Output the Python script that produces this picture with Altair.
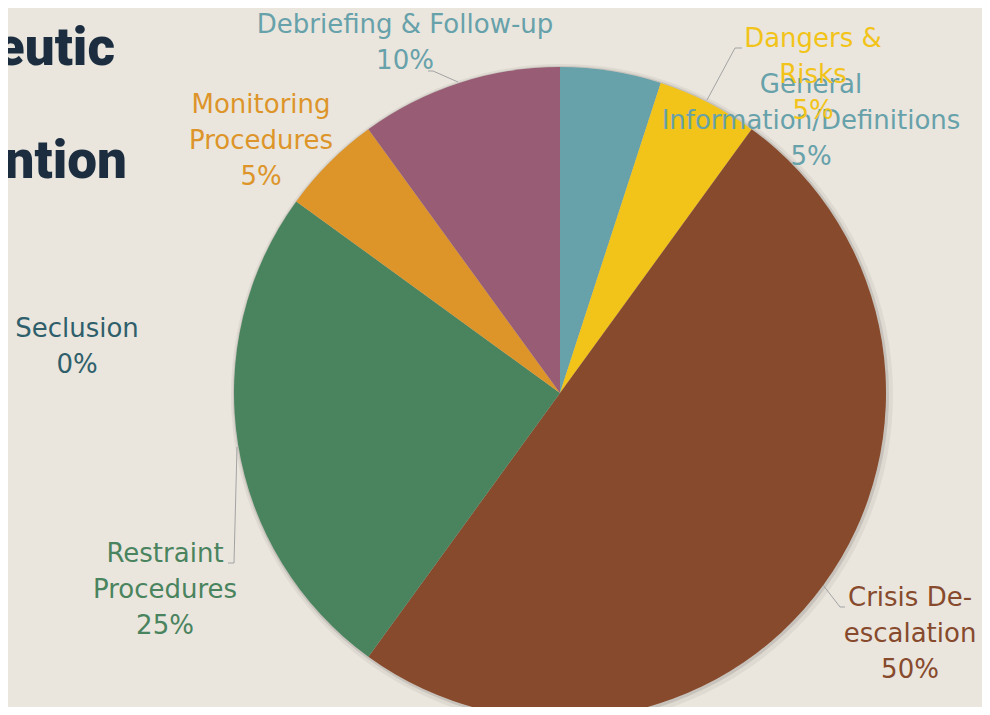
import altair as alt
import pandas as pd

# ---- data ----
categories = ["General Information/Definitions", "Dangers & Risks", "Crisis De-escalation",
              "Restraint Procedures", "Seclusion", "Monitoring Procedures", "Debriefing & Follow-up"]
values = [5, 5, 50, 25, 0, 5, 10]
colors = ["#67A1AA", "#F2C318", "#874A2C", "#4A845E", "#2F5F6B", "#DD952A", "#985C75"]
label_colors = ["#67A1AA", "#F2C318", "#874A2C", "#4A845E", "#2F5F6B", "#DD952A", "#67A1AA"]
label_text = ["General\nInformation/Definitions", "Dangers &\nRisks", "Crisis De-\nescalation",
              "Restraint\nProcedures", "Seclusion", "Monitoring\nProcedures", "Debriefing & Follow-up"]
title_parts = ["eutic", "ntion"]

# ---- layout (page pixel coordinates) ----
label_x = [811, 813, 910, 165, 77, 261, 405]
label_y = [93, 47, 606, 562, 337, 113, 33]
title_x = [115, 127]
title_y = [65, 178]
seg_x = [428, 433, 735, 735, 237, 234, 823, 840]
seg_y = [71, 71, 48, 48, 447, 563, 585, 607]
seg_x2 = [433, 458, 742, 707, 234, 228, 840, 845]
seg_y2 = [71, 82, 48, 100, 563, 563, 607, 607]

W, H = 974, 699
CX, CY, R = 560, 393, 326

df = pd.DataFrame({"category": categories, "value": values, "order": list(range(len(values)))})
labels = pd.DataFrame({
    "text": [f"{t}\n{v}%" for t, v in zip(label_text, values)],
    "color": label_colors,
    "x": label_x, "y": label_y,
})
titles = pd.DataFrame({"text": title_parts, "x": title_x, "y": title_y})
segs = pd.DataFrame({"x": seg_x, "y": seg_y, "x2": seg_x2, "y2": seg_y2})

xs = alt.Scale(domain=[8, 8 + W], range=[0, W])
ys = alt.Scale(domain=[8, 8 + H], range=[0, H])
color_scale = alt.Scale(domain=categories, range=colors)

base = alt.Chart(df)
shadow1 = base.mark_arc(radius=R + 5, color="#000000", opacity=0.05).encode(
    theta=alt.Theta("value:Q", stack=True), order=alt.Order("order:Q"),
    x=alt.value(CX - 8 + 2), y=alt.value(CY - 8 + 2))
shadow2 = base.mark_arc(radius=R + 2, color="#000000", opacity=0.10).encode(
    theta=alt.Theta("value:Q", stack=True), order=alt.Order("order:Q"),
    x=alt.value(CX - 8 + 1), y=alt.value(CY - 8 + 1))
pie = base.mark_arc(radius=R).encode(
    theta=alt.Theta("value:Q", stack=True),
    order=alt.Order("order:Q"),
    color=alt.Color("category:N", scale=color_scale, legend=None),
    x=alt.value(CX - 8), y=alt.value(CY - 8),
)

rules = alt.Chart(segs).mark_rule(color="#A3A3A3", strokeWidth=1).encode(
    x=alt.X("x:Q", scale=xs, axis=None), y=alt.Y("y:Q", scale=ys, axis=None),
    x2="x2:Q", y2="y2:Q")

text = alt.Chart(labels).mark_text(
    font="DejaVu Sans", fontSize=26, lineHeight=36, align="center",
    baseline="alphabetic", lineBreak="\n").encode(
    x=alt.X("x:Q", scale=xs, axis=None), y=alt.Y("y:Q", scale=ys, axis=None),
    text="text:N",
    color=alt.Color("color:N", scale=None, legend=None))

title = alt.Chart(titles).mark_text(
    font="Roboto", fontSize=53, fontWeight=900, align="right",
    baseline="alphabetic", color="#1B2D3F").encode(
    x=alt.X("x:Q", scale=xs, axis=None), y=alt.Y("y:Q", scale=ys, axis=None),
    text="text:N")

chart = alt.layer(shadow1, shadow2, pie, rules, text, title).properties(
    width=W, height=H, padding=0, autosize="none", background="#EAE6DE"
).configure_view(stroke=None)

chart.save("out.html", embed_options={"renderer": "svg", "actions": False})
